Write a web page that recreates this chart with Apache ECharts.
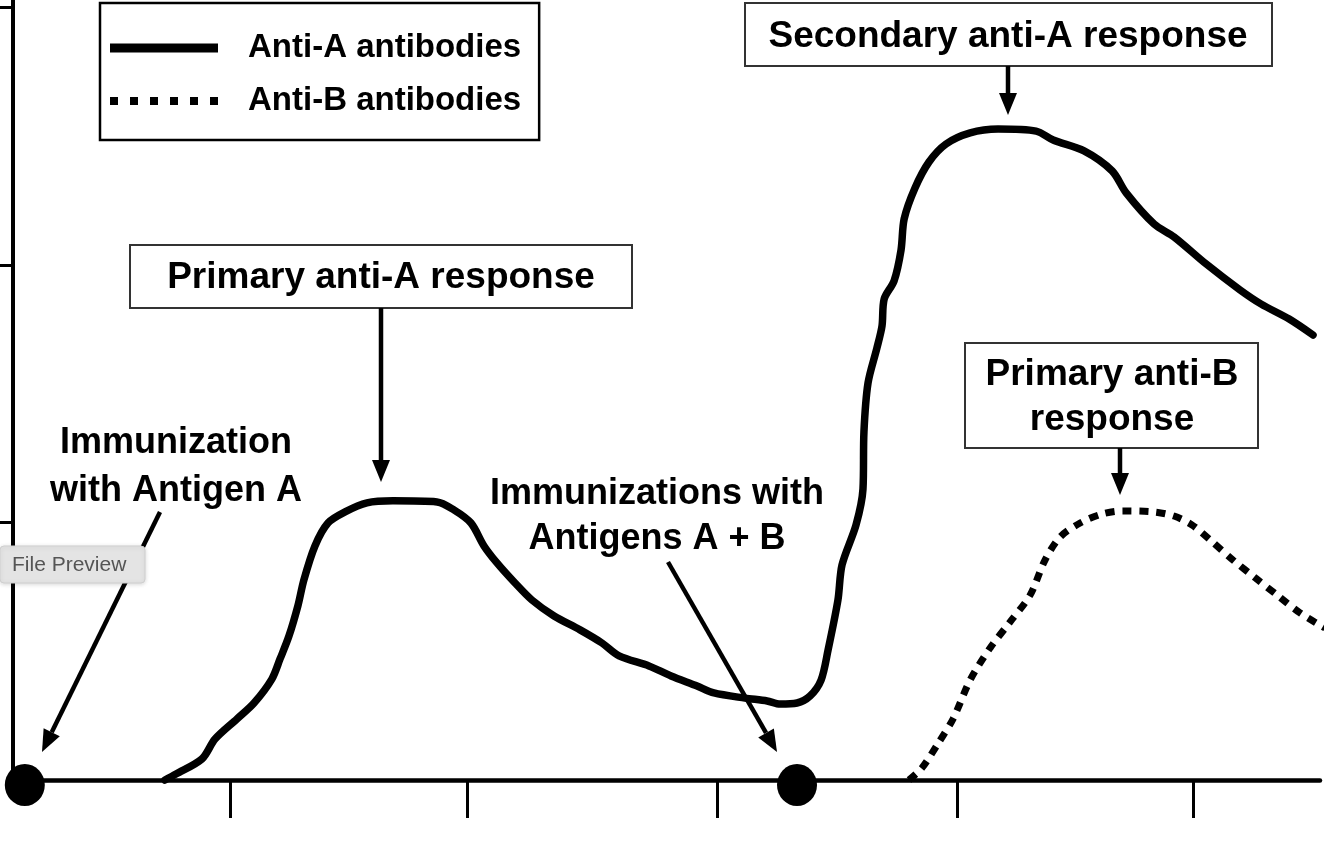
<!DOCTYPE html>
<html><head><meta charset="utf-8">
<script src="https://cdn.jsdelivr.net/npm/echarts@6/dist/echarts.min.js"></script>
<style>html,body{margin:0;padding:0;background:#fff}#c{width:1334px;height:843px}</style>
</head><body><div id="c"></div><script>
// ---- data (time in days, antibody level in arbitrary units) ----
const seriesNames = ['Anti-A antibodies', 'Anti-B antibodies'];
const antiA_x = [7.30,7.76,8.84,9.38,10.29,11.00,11.74,12.08,12.45,12.82,13.07,13.53,14.07,14.78,15.69,16.77,18.60,19.30,20.01,20.55,21.09,21.84,22.54,23.46,24.54,25.45,26.16,27.40,28.32,29.40,30.10,31.39,32.31,32.85,33.55,34.09,34.55,34.84,35.25,35.42,36.00,36.29,36.33,36.50,36.87,37.08,37.17,37.58,37.87,38.00,38.45,39.03,39.74,40.74,41.90,43.48,44.19,45.47,46.64,47.22,48.38,49.21,50.54,51.95,52.83,53.99,54.98];
const antiA_y = [0,2.3,8.2,15.9,23.7,29.9,39.2,47.0,55.9,67.6,77.7,90.9,99.8,104.1,107.6,108.4,108.0,104.9,99.8,90.9,84.3,76.5,69.9,63.7,58.3,53.2,48.2,44.3,40.4,36.5,33.8,31.8,30.7,29.5,29.9,32.6,38.8,50.5,69.9,83.5,99.0,113.0,135.2,154.2,167.8,176.3,186.8,193.8,205.8,217.9,229.9,240.0,247.0,251.3,252.8,252.0,248.5,244.3,236.5,228.0,215.9,210.9,200.4,190.3,184.8,179.0,172.8];
const antiB_x = [38.20,38.74,39.45,40.03,40.74,41.57,42.40,43.23,43.85,44.48,45.31,46.22,47.09,48.38,49.21,49.96,50.71,51.66,52.58,53.53,54.44,55.48];
const antiB_y = [0,4.7,14.8,23.7,38.8,51.3,61.4,71.8,85.4,94.4,99.8,103.3,104.5,104.1,102.5,99.0,93.2,85.4,78.5,71.5,64.9,59.0];
const immunizationDays = [1.48, 33.55];
const xTickValues = [10, 19.85, 30.25, 40.2, 50];
const yTickValues = [100, 200, 300];

const FONT = '"Liberation Sans", Arial, Helvetica, sans-serif';
const chart = echarts.init(document.getElementById('c'), null, {renderer: 'canvas'});

function arrow(x1, y1, x2, y2) {
  const dx = x2 - x1, dy = y2 - y1, L = Math.sqrt(dx*dx + dy*dy);
  const ux = dx / L, uy = dy / L, hl = 22, hw = 9;
  const bx = x2 - ux*hl, by = y2 - uy*hl;
  return [
    {type: 'line', shape: {x1: x1, y1: y1, x2: bx, y2: by}, style: {stroke: '#000', lineWidth: 4.5}, z: 20},
    {type: 'polygon', shape: {points: [[x2, y2], [bx - uy*hw, by + ux*hw], [bx + uy*hw, by - ux*hw]]}, style: {fill: '#000'}, z: 20}
  ];
}
function box(x, y, w, h) {
  return {type: 'rect', shape: {x: x, y: y, width: w, height: h}, style: {fill: '#fff', stroke: '#333', lineWidth: 2}, z: 15};
}
function label(text, x, y, size, lh) {
  return {type: 'text', x: x, y: y, z: 21,
    style: {text: text, font: 'bold ' + size + 'px ' + FONT, fill: '#000', align: 'center', verticalAlign: 'middle', lineHeight: lh || size}};
}

const graphics = [].concat(
  [box(130, 245, 502, 63), label('Primary anti-A response', 381, 278, 37)],
  [box(745, 3, 527, 63), label('Secondary anti-A response', 1008, 37, 37)],
  [box(965, 343, 293, 105), label('Primary anti-B\nresponse', 1112, 397, 37, 45)],
  [label('Immunization\nwith Antigen A', 176, 467, 36, 48)],
  [label('Immunizations with\nAntigens A + B', 657, 517, 36, 45)],
  arrow(381, 308, 381, 482),
  arrow(1008, 66, 1008, 115),
  arrow(1120, 448, 1120, 495),
  arrow(160, 512, 42, 752),
  arrow(668, 562, 777, 752),
  [
    {type: 'rect', shape: {x: 0, y: 546, width: 145, height: 37, r: 4}, style: {fill: '#e4e4e4', stroke: '#cfcfcf', lineWidth: 1, shadowBlur: 4, shadowColor: 'rgba(0,0,0,0.15)', shadowOffsetY: 1}, z: 30},
    {type: 'text', x: 12, y: 565, z: 31, style: {text: 'File Preview', font: '21px ' + FONT, fill: '#555', align: 'left', verticalAlign: 'middle'}}
  ]
);

const dottedIcon = 'path://M0,0h8v8h-8zM20,0h8v8h-8zM40,0h8v8h-8zM60,0h8v8h-8zM80,0h8v8h-8zM100,0h8v8h-8z';

chart.setOption({
  animation: false,
  backgroundColor: '#fff',
  grid: {left: 13, right: 14, top: 0, bottom: 63, containLabel: false},
  legend: {
    data: [
      {name: seriesNames[0], icon: 'rect'},
      {name: seriesNames[1], icon: dottedIcon}
    ],
    orient: 'vertical', left: 100, top: 3,
    itemWidth: 108, itemHeight: 9, itemGap: 13,
    borderColor: '#000', borderWidth: 2.5,
    padding: [25, 18, 19, 10],
    selectedMode: false,
    itemStyle: {color: '#000', borderWidth: 0},
    lineStyle: {width: 0, opacity: 0},
    textStyle: {fontSize: 33, fontWeight: 'bold', fontFamily: FONT, color: '#000', lineHeight: 40, padding: [0, 0, 0, 25]}
  },
  xAxis: {
    type: 'value', min: 0.99, max: 55.27,
    splitLine: {show: false},
    axisLine: {show: true, onZero: false, lineStyle: {color: '#000', width: 4.5}},
    axisTick: {show: true, inside: false, length: 38, customValues: xTickValues, lineStyle: {color: '#000', width: 3}},
    axisLabel: {show: false}
  },
  yAxis: {
    type: 'value', min: 0, max: 302.9,
    splitLine: {show: false},
    axisLine: {show: true, onZero: false, lineStyle: {color: '#000', width: 4}},
    axisTick: {show: true, inside: false, length: 13, customValues: yTickValues, lineStyle: {color: '#000', width: 3}},
    axisLabel: {show: false}
  },
  graphic: graphics,
  series: [
    {
      name: seriesNames[0], type: 'line', smooth: 0.3, symbol: 'none', showSymbol: false, clip: false, z: 5,
      data: antiA_x.map((x, i) => [x, antiA_y[i]]),
      lineStyle: {color: '#000', width: 7.5, cap: 'round', join: 'round'},
      itemStyle: {color: '#000'}
    },
    {
      name: seriesNames[1], type: 'line', smooth: 0.3, symbol: 'none', showSymbol: false, clip: false, z: 5,
      data: antiB_x.map((x, i) => [x, antiB_y[i]]),
      lineStyle: {color: '#000', width: 7, type: [9, 8], cap: 'butt'},
      itemStyle: {color: '#000'}
    },
    {
      name: 'Immunization', type: 'scatter', clip: false, z: 8,
      data: immunizationDays.map(d => [d, 0]),
      symbol: 'circle', symbolSize: [40, 42], symbolOffset: [0, 5],
      itemStyle: {color: '#000', opacity: 1}
    }
  ]
});
</script></body></html>
